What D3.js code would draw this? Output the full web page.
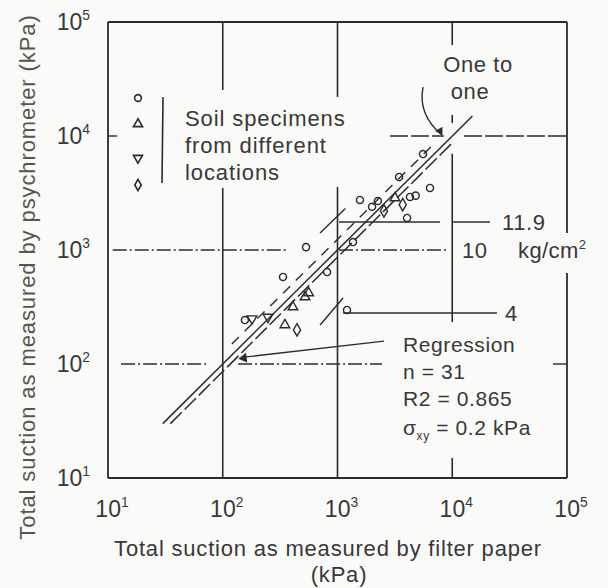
<!DOCTYPE html>
<html>
<head>
<meta charset="utf-8">
<script src="https://cdn.jsdelivr.net/npm/d3@7"></script>
<style>
  body { margin: 0; background: #fafaf8; }
  svg { display: block; }
  text { font-family: "Liberation Sans", Arial, sans-serif; fill: #383838; }
</style>
</head>
<body>
<script>
// tick values (kPa) on both log axes
var tickValues = [1e1, 1e2, 1e3, 1e4, 1e5];
var tickExponents = ['1', '2', '3', '4', '5'];

// measured points: filter paper (x) vs psychrometer (y), kPa
var circlePoints = [
  [5560, 6950], [6400, 3500], [1570, 2750], [2250, 2690], [4280, 2920],
  [3440, 4370], [4040, 1910], [532, 1060], [1365, 1175], [335, 580],
  [811, 641], [1210, 298], [156, 243], [4800, 3000], [2000, 2400]
];
var triUpPoints = [[409, 316], [348, 220], [521, 387], [3170, 2860], [560, 420]];
var triDownPoints = [[248, 258], [180, 250]];
var diamondPoints = [[444, 199], [2540, 2200], [3700, 2500]];

// reference lines (kPa)
var oneToOne = [[30, 30], [15000, 15000]];
var regressionLine = [[35, 30], [10000, 8700]];
var upperLine = [[120, 150], [6500, 8000]];

// kg/cm2 levels, drawn at their plotted height
var pressureLabels = ['11.9', '10', '4'];
var pressureLevels = [1760, 1000, 280];

var legendText = ['Soil specimens', 'from different', 'locations'];
var regressionText = ['Regression', 'n = 31', 'R2 = 0.865'];

var W = 608, H = 588;
var svg = d3.select('body').append('svg').attr('width', W).attr('height', H);

var x = d3.scaleLog().domain([1e1, 1e5]).range([108, 567]);
var y = d3.scaleLog().domain([1e1, 1e5]).range([478, 22]);

var ink = '#2b2b2b';

function seg(g, x1, y1, x2, y2, dash, w) {
  g.append('line')
    .attr('x1', x(x1)).attr('y1', y(y1)).attr('x2', x(x2)).attr('y2', y(y2))
    .attr('stroke', ink).attr('stroke-width', w || 1.4)
    .attr('stroke-dasharray', dash || null);
}

var grid = svg.append('g');

// frame
seg(grid, 10, 1e5, 1e5, 1e5, null, 1.8);
seg(grid, 10, 10, 1e5, 10, null, 1.8);
seg(grid, 10, 10, 10, 1e5, null, 1.8);
seg(grid, 1e5, 1e5, 1e5, 1410, null, 1.8);
seg(grid, 1e5, 628, 1e5, 10, null, 1.8);

// vertical grid, broken where text sits
seg(grid, 100, 1e5, 100, 25300, null, 1.6);
seg(grid, 100, 3500, 100, 10, null, 1.6);
seg(grid, 1000, 1e5, 1000, 22000, null, 1.6);
seg(grid, 1000, 3570, 1000, 10, null, 1.6);
seg(grid, 1e4, 1e5, 1e4, 62800, null, 1.6);
seg(grid, 1e4, 15280, 1e4, 13000, null, 1.6);
seg(grid, 1e4, 7000, 1e4, 233, null, 1.6);
seg(grid, 1e4, 15, 1e4, 10, null, 1.6);

// horizontal grid
var dashDot = '14,3,2,3';
seg(grid, 10, 1e4, 12, 1e4, null, 1.4);
seg(grid, 2870, 1e4, 8470, 1e4, '18,3', 1.4);
seg(grid, 12650, 1e4, 1e5, 1e4, '18,3', 1.4);
seg(grid, 11, 1000, 371, 1000, dashDot, 1.4);
seg(grid, 1030, 1000, 9000, 1000, dashDot, 1.4);
seg(grid, 13, 100, 71.5, 100, dashDot, 1.4);
seg(grid, 136, 100, 2440, 100, dashDot, 1.4);
seg(grid, 75500, 100, 1e5, 100, null, 1.4);

// pressure lines
seg(grid, 1030, pressureLevels[0], 7820, pressureLevels[0], null, 1.4);
seg(grid, 10170, pressureLevels[0], 21300, pressureLevels[0], null, 1.4);
seg(grid, 1117, pressureLevels[2], 24500, pressureLevels[2], null, 1.4);
seg(grid, 705, 1410, 1170, 2310, null, 1.4);
seg(grid, 705, 220, 1117, 379, null, 1.4);

// lines
var line = d3.line().x(d => x(d[0])).y(d => y(d[1]));
svg.append('path').attr('d', line(oneToOne)).attr('fill', 'none')
  .attr('stroke', ink).attr('stroke-width', 1.5);
svg.append('path').attr('d', line(regressionLine)).attr('fill', 'none')
  .attr('stroke', ink).attr('stroke-width', 1.5).attr('stroke-dasharray', '16,4');
svg.append('path').attr('d', line(upperLine)).attr('fill', 'none')
  .attr('stroke', ink).attr('stroke-width', 1.4).attr('stroke-dasharray', '10,8');

// points
var pts = svg.append('g').attr('fill', 'none').attr('stroke', ink).attr('stroke-width', 1.4);
function drawSymbols(data, type, size, rot) {
  pts.selectAll(null).data(data).enter().append('path')
    .attr('d', d3.symbol().type(type).size(size))
    .attr('transform', d => 'translate(' + x(d[0]) + ',' + y(d[1]) + ')' + (rot ? ' rotate(' + rot + ')' : ''));
}
drawSymbols(circlePoints, d3.symbolCircle, 40);
drawSymbols(triUpPoints, d3.symbolTriangle, 40);
drawSymbols(triDownPoints, d3.symbolTriangle, 40, 180);
drawSymbols(diamondPoints, d3.symbolDiamond, 45);

// legend
var leg = svg.append('g').attr('fill', 'none').attr('stroke', ink).attr('stroke-width', 1.6);
var legTypes = [[d3.symbolCircle, 0, 98], [d3.symbolTriangle, 0, 124], [d3.symbolTriangle, 180, 158], [d3.symbolDiamond, 0, 185]];
legTypes.forEach(function (t) {
  leg.append('path').attr('d', d3.symbol().type(t[0]).size(36))
    .attr('transform', 'translate(138,' + t[2] + ') rotate(' + t[1] + ')');
});
leg.append('line').attr('x1', 163).attr('x2', 162).attr('y1', 97).attr('y2', 183);
svg.selectAll('.legtext').data(legendText).enter().append('text')
  .attr('x', 185).attr('y', (d, i) => 126 + i * 27)
  .attr('font-size', 22).attr('letter-spacing', 0.9).text(d => d);

// tick labels
function powerLabel(g, base, exp, fs) {
  g.append('tspan').text(base);
  g.append('tspan').attr('font-size', fs * 0.6).attr('dy', -fs * 0.45).text(exp);
}
tickValues.forEach(function (v, i) {
  var t = svg.append('text').attr('x', x(v) + 4).attr('y', 517)
    .attr('text-anchor', 'middle').attr('font-size', 23);
  powerLabel(t, '10', tickExponents[i], 23);
  var t2 = svg.append('text').attr('x', 90).attr('y', y(v) + 8)
    .attr('text-anchor', 'end').attr('font-size', 23);
  powerLabel(t2, '10', tickExponents[i], 23);
});

// axis titles
svg.append('text').attr('x', 328).attr('y', 556).attr('text-anchor', 'middle')
  .attr('font-size', 22).attr('letter-spacing', 0.8)
  .text('Total suction as measured by filter paper');
svg.append('text').attr('x', 339).attr('y', 582).attr('text-anchor', 'middle')
  .attr('font-size', 22).attr('letter-spacing', 0.8).text('(kPa)');
svg.append('text').attr('transform', 'translate(35,277) rotate(-90)')
  .attr('text-anchor', 'middle').attr('font-size', 22).attr('letter-spacing', 0.9)
  .style('fill', '#555').text('Total suction as measured by psychrometer (kPa)');

// one to one annotation
svg.append('text').attr('x', 478).attr('y', 72).attr('text-anchor', 'middle')
  .attr('font-size', 22).attr('letter-spacing', 0.6).text('One to');
svg.append('text').attr('x', 470).attr('y', 99).attr('text-anchor', 'middle')
  .attr('font-size', 22).attr('letter-spacing', 0.6).text('one');
var arrowStart = [5560, 26900], arrowCtrl = [5000, 15300], arrowEnd = [8150, 10200];
svg.append('path')
  .attr('d', 'M' + x(arrowStart[0]) + ',' + y(arrowStart[1]) +
    ' Q' + x(arrowCtrl[0]) + ',' + y(arrowCtrl[1]) + ' ' + x(arrowEnd[0]) + ',' + y(arrowEnd[1]))
  .attr('fill', 'none').attr('stroke', ink).attr('stroke-width', 1.4);
svg.append('path')
  .attr('d', d3.symbol().type(d3.symbolTriangle).size(30))
  .attr('transform', 'translate(' + (x(arrowEnd[0]) - 2) + ',' + (y(arrowEnd[1]) - 4) + ') rotate(150)')
  .attr('fill', ink);

// pressure labels
svg.append('text').attr('x', 502).attr('y', y(pressureLevels[0]) + 8).attr('font-size', 22).attr('letter-spacing', 0.6).text(pressureLabels[0]);
svg.append('text').attr('x', 462).attr('y', y(pressureLevels[1]) + 8).attr('font-size', 22).attr('letter-spacing', 0.6).text(pressureLabels[1]);
var kg = svg.append('text').attr('x', 518).attr('y', y(pressureLevels[1]) + 8).attr('font-size', 22).attr('letter-spacing', 0.4);
kg.append('tspan').text('kg/cm');
kg.append('tspan').attr('font-size', 13).attr('dy', -9).text('2');
svg.append('text').attr('x', 505).attr('y', y(pressureLevels[2]) + 8).attr('font-size', 22).text(pressureLabels[2]);

// regression annotation
var regFrom = [2540, 159], regTo = [141, 113];
svg.append('line').attr('x1', x(regFrom[0])).attr('y1', y(regFrom[1]))
  .attr('x2', x(regTo[0]) + 6).attr('y2', y(regTo[1]) - 1)
  .attr('stroke', ink).attr('stroke-width', 1.3);
svg.append('path')
  .attr('d', d3.symbol().type(d3.symbolTriangle).size(40))
  .attr('transform', 'translate(' + (x(regTo[0]) + 4) + ',' + y(regTo[1]) + ') rotate(-97)')
  .attr('fill', ink);
svg.selectAll('.regtext').data(regressionText).enter().append('text')
  .attr('x', 403).attr('y', (d, i) => 352 + i * 27)
  .attr('font-size', 21).attr('letter-spacing', 0.6).text(d => d);
var sig = svg.append('text').attr('x', 403).attr('y', 435).attr('font-size', 21).attr('letter-spacing', 0.6);
sig.append('tspan').text('\u03c3');
sig.append('tspan').attr('font-size', 12).attr('dy', 5).text('xy');
sig.append('tspan').attr('dy', -5).text(' = 0.2 kPa');
</script>
</body>
</html>
